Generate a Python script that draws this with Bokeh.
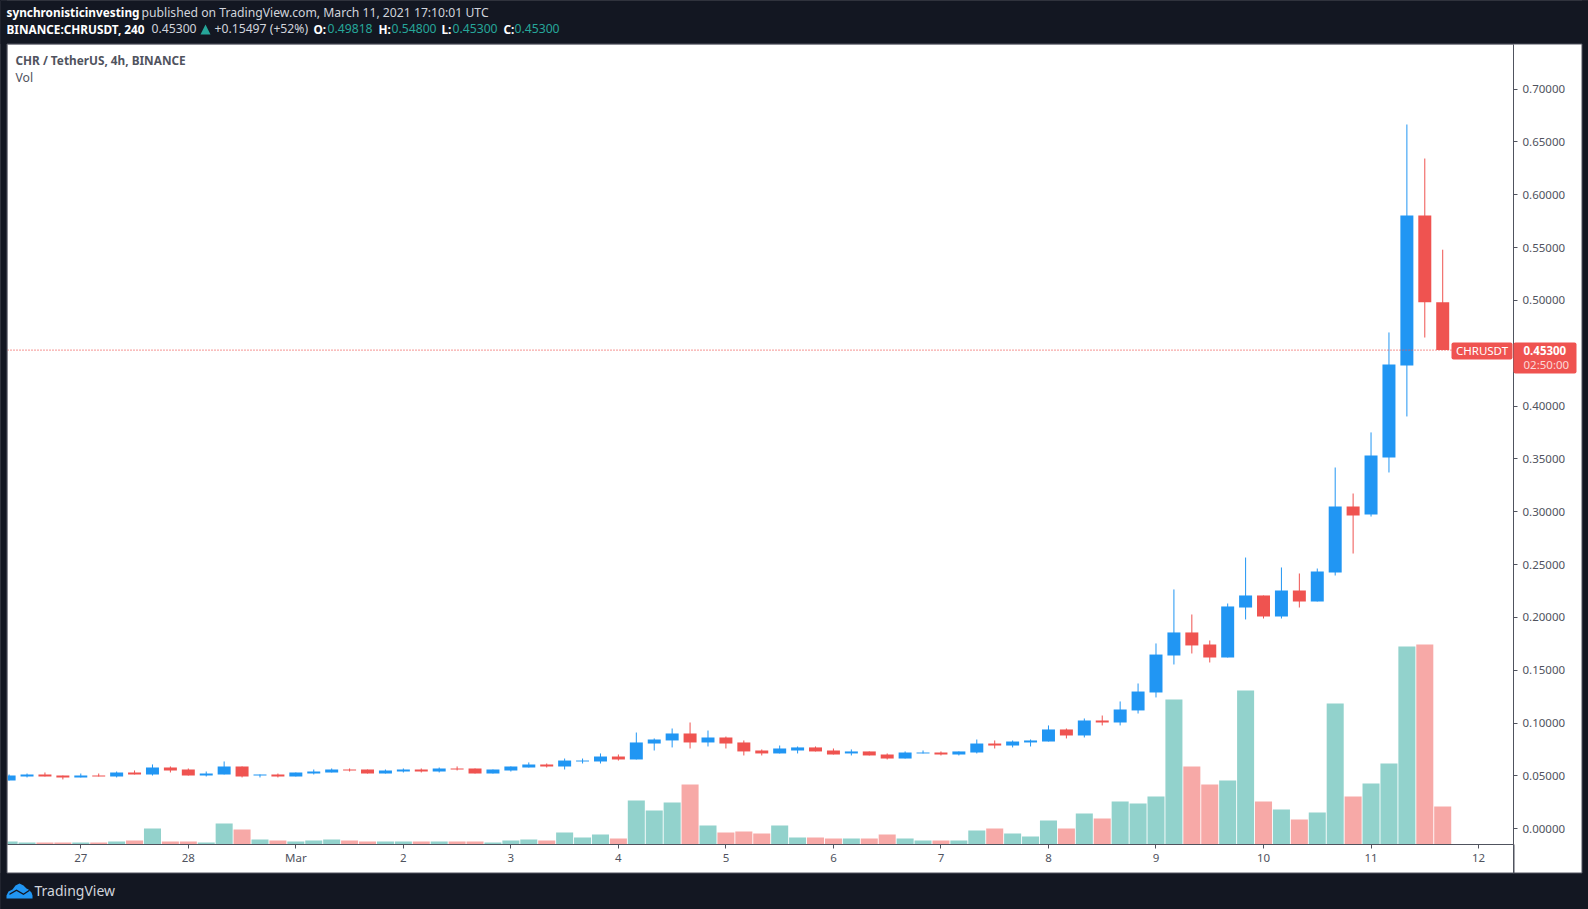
from bokeh.plotting import figure
from bokeh.embed import file_html
from bokeh.resources import INLINE
from bokeh.models import (Range1d, FixedTicker, NumeralTickFormatter, Span, BoxAnnotation,
                          Label, ColumnDataSource)

# ---------- data ----------
tick_positions = [4, 10, 16, 22, 28, 34, 40, 46, 52, 58, 64, 70, 76, 82]
tick_labels = ["27", "28", "Mar", "2", "3", "4", "5", "6", "7", "8", "9", "10", "11", "12"]
price_ticks = [0.0, 0.05, 0.10, 0.15, 0.20, 0.25, 0.30, 0.35, 0.40, 0.50, 0.55, 0.60, 0.65, 0.70]

opens = [.0457,.0495,.0514,.0504,.0486,.0504,.0495,.0533,.0514,.0580,.0561,.0504,.0514,.0590,.0504,.0514,.0495,.0523,.0533,.0561,
         .0561,.0523,.0542,.0561,.0542,.0571,.0571,.0523,.0552,.0580,.0609,.0590,.0637,.0637,.0684,.0656,.0807,.0836,.0902,.0817,
         .0864,.0817,.0741,.0713,.0741,.0770,.0741,.0713,.0732,.0703,.0665,.0713,.0722,.0703,.0722,.0807,.0788,.0817,.0826,.0940,
         .0883,.1025,.1006,.1120,.1290,.1640,.1858,.1744,.1621,.2094,.2208,.2009,.2255,.2151,.2426,.3050,.2974,.3514,.4384,.5804,.49818]
highs = [.0514,.0523,.0533,.0504,.0523,.0523,.0542,.0552,.0609,.0590,.0571,.0542,.0637,.0590,.0514,.0523,.0533,.0561,.0571,.0571,
         .0561,.0561,.0571,.0571,.0580,.0590,.0571,.0561,.0590,.0628,.0618,.0665,.0665,.0713,.0703,.0911,.0855,.0949,.1006,.0930,
         .0873,.0836,.0751,.0788,.0779,.0779,.0760,.0751,.0732,.0713,.0732,.0741,.0732,.0732,.0845,.0836,.0836,.0845,.0978,.0949,
         .1044,.1072,.1205,.1375,.1754,.2265,.2028,.1782,.2132,.2567,.2208,.2473,.2416,.2463,.3419,.3173,.3751,.4697,.6665,.6343,.5480]
lows = [.0457,.0486,.0495,.0467,.0486,.0495,.0486,.0514,.0504,.0533,.0504,.0495,.0514,.0486,.0486,.0486,.0495,.0514,.0533,.0542,
        .0523,.0523,.0533,.0533,.0533,.0552,.0523,.0523,.0542,.0580,.0580,.0561,.0618,.0618,.0646,.0656,.0741,.0770,.0760,.0779,
        .0760,.0694,.0694,.0713,.0713,.0732,.0703,.0694,.0694,.0656,.0665,.0713,.0694,.0694,.0713,.0760,.0770,.0779,.0826,.0855,
        .0864,.0978,.0978,.1091,.1243,.1555,.1659,.1574,.1621,.1981,.1990,.1990,.2094,.2151,.2397,.2605,.2955,.3372,.3902,.4649,.4530]
closes = [.0504,.0514,.0495,.0486,.0504,.0495,.0533,.0514,.0580,.0552,.0504,.0523,.0590,.0495,.0514,.0495,.0533,.0542,.0561,.0552,
          .0523,.0552,.0561,.0542,.0571,.0561,.0523,.0561,.0590,.0609,.0590,.0646,.0646,.0684,.0656,.0817,.0845,.0902,.0817,.0864,
          .0807,.0732,.0713,.0760,.0770,.0732,.0703,.0732,.0694,.0665,.0722,.0722,.0703,.0732,.0807,.0788,.0826,.0836,.0940,.0883,
          .1025,.1006,.1129,.1299,.1649,.1858,.1735,.1621,.2104,.2208,.2009,.2255,.2151,.2435,.3050,.2965,.3533,.4394,.5804,.49818,.4530]
volumes = [3,2,2,2,2,2,3,4,16,3,3,2,21,15,5,4,3,4,5,4,
           3,3,3,3,3,3,3,2,4,5,4,12,7,10,6,44,34,42,60,19,
           12,13,11,19,7,7,6,6,6,10,6,4,4,4,14,16,11,8,24,16,
           31,26,43,41,48,145,78,60,64,154,43,35,25,32,141,48,61,81,198,200,38]

BLUE, RED = "#2196f3", "#ef5350"
TEAL = "#26a69a"
DARK, GRID = "#131722", "#50535e"
FONT = "Noto Sans"

idx = list(range(len(opens)))
up = [c >= o for o, c in zip(opens, closes)]
src = ColumnDataSource(dict(
    x=idx, o=opens, h=highs, l=lows, c=closes, v=volumes,
    top=[max(a, b) for a, b in zip(opens, closes)],
    bot=[min(a, b) for a, b in zip(opens, closes)],
    col=[BLUE if u else RED for u in up],
    vcol=[TEAL if u else RED for u in up],
))

W, H = 1588, 909
p = figure(width=W, height=H, output_backend="svg", toolbar_location=None,
           x_range=Range1d(-0.09, 83.95), y_range=Range1d(-0.01486, 0.7422),
           y_axis_location="right", min_border_left=7, min_border_right=W - 1513,
           min_border_top=44, min_border_bottom=H - 844)
p.extra_y_ranges["vol"] = Range1d(0, 800)
p.border_fill_color = "white"
p.background_fill_color = "white"
p.outline_line_color = None
p.grid.visible = False

p.vbar(x="x", top="v", bottom=0, width=0.95, source=src, y_range_name="vol",
       fill_color="vcol", fill_alpha=0.5, line_color=None)
p.segment(x0="x", x1="x", y0="l", y1="h", source=src, line_color="col", line_width=1)
p.vbar(x="x", top="top", bottom="bot", width=0.725, source=src, fill_color="col", line_color=None)

p.add_layout(Span(location=closes[-1], dimension="width", line_color=RED, line_width=1.4, line_dash="1 2"))

ax = p.xaxis[0]
ax.ticker = FixedTicker(ticks=tick_positions)
ax.major_label_overrides = {t: s for t, s in zip(tick_positions, tick_labels)}
ay = p.yaxis[0]
ay.ticker = FixedTicker(ticks=price_ticks)
ay.formatter = NumeralTickFormatter(format="0.00000")
for a in (ax, ay):
    a.axis_line_color = GRID
    a.major_tick_line_color = GRID
    a.major_tick_out = 4
    a.major_tick_in = 0
    a.minor_tick_line_color = None
    a.major_label_text_color = GRID
    a.major_label_text_font = FONT
    a.major_label_text_font_size = "11.5px"
ay.major_label_standoff = 5
ax.major_label_standoff = 1

# transparent page layer: surround, badges, header, logo (coordinates are page pixels)
ov = figure(width=W, height=H, output_backend="svg", toolbar_location=None,
            x_range=Range1d(0, W), y_range=Range1d(H, 0),
            x_axis_location=None, y_axis_location=None, min_border=0,
            styles={"position": "absolute", "left": "0px", "top": "0px"})
ov.border_fill_color = None
ov.background_fill_color = None
ov.outline_line_color = None
ov.grid.visible = False


def box(l, r, t, b, color=None, line=None, radius=0):
    ov.add_layout(BoxAnnotation(left=l, right=r, top=t, bottom=b,
                                fill_color=color, fill_alpha=1 if color else 0,
                                line_color=line, line_alpha=1 if line else 0, line_width=1,
                                border_radius=radius, editable=False))


def text(x, y, s, color="white", size=12.2, bold=False, align="left"):
    ov.add_layout(Label(x=x, y=y, text=s, text_color=color, text_font=FONT,
                        text_font_size=f"{11.8 if bold and size == 12.2 else size}px",
                        text_font_style="bold" if bold else "normal",
                        text_baseline="middle", text_align=align))


box(-5, W + 5, -5, 43.5, DARK)
box(-5, W + 5, 872.5, H + 5, DARK)
box(-5, 6.5, -5, H + 5, DARK)
box(1581.5, W + 5, -5, H + 5, DARK)
box(6.5, 1581.5, 43.5, 872.5, None, GRID)
box(1513, 1513.5, 844, 872.5, None, GRID)

box(1451, 1512, 342, 359, RED, radius=2)
box(1513, 1576, 342, 373, RED, radius=2)
text(1481.5, 350, "CHRUSDT", size=11.5, align="center")
text(1523, 350, "0.45300", size=11.5, bold=True)
text(1523, 364, "02:50:00", color="#fbd9d8", size=11.5)

text(6, 11.7, "synchronisticinvesting", bold=True)
text(141, 11.7, "published on TradingView.com, March 11, 2021 17:10:01 UTC", color="#d1d4dc")
text(6, 28.3, "BINANCE:CHRUSDT, 240", bold=True)
text(151, 28.3, "0.45300", color="#d1d4dc")
ov.patch([200, 205, 210], [34, 24, 34], fill_color=TEAL, line_color=None, level="overlay")
text(214, 28.3, "+0.15497 (+52%)", color="#d1d4dc")
for lx, vx, lab, val in [(313, 327, "O:", "0.49818"), (378, 391, "H:", "0.54800"),
                         (441, 452, "L:", "0.45300"), (503, 514, "C:", "0.45300")]:
    text(lx, 28.3, lab, bold=True)
    text(vx, 28.3, val, color=TEAL)
text(15, 59, "CHR / TetherUS, 4h, BINANCE", color=GRID, bold=True)
text(15, 76.5, "Vol", color=GRID)

ov.patch([6, 8, 12, 15, 19, 23, 26, 28, 31, 32, 32, 6],
         [895, 891, 889, 885, 883, 885, 888, 889, 892, 895, 898, 898],
         fill_color=BLUE, line_color=None, level="overlay")
ov.patch([9, 16, 23, 29, 29, 23, 16, 9],
         [893, 889, 893, 889, 890.5, 894.5, 890.5, 894.5],
         fill_color=DARK, line_color=None, level="overlay")
text(34, 890, "TradingView", color="#d1d4dc", size=14)

html = file_html([p, ov], INLINE)
html = html.replace("</head>", "<style>html,body{margin:0!important;background:#131722;overflow:hidden}</style></head>", 1)
open("out.html", "w").write(html)
